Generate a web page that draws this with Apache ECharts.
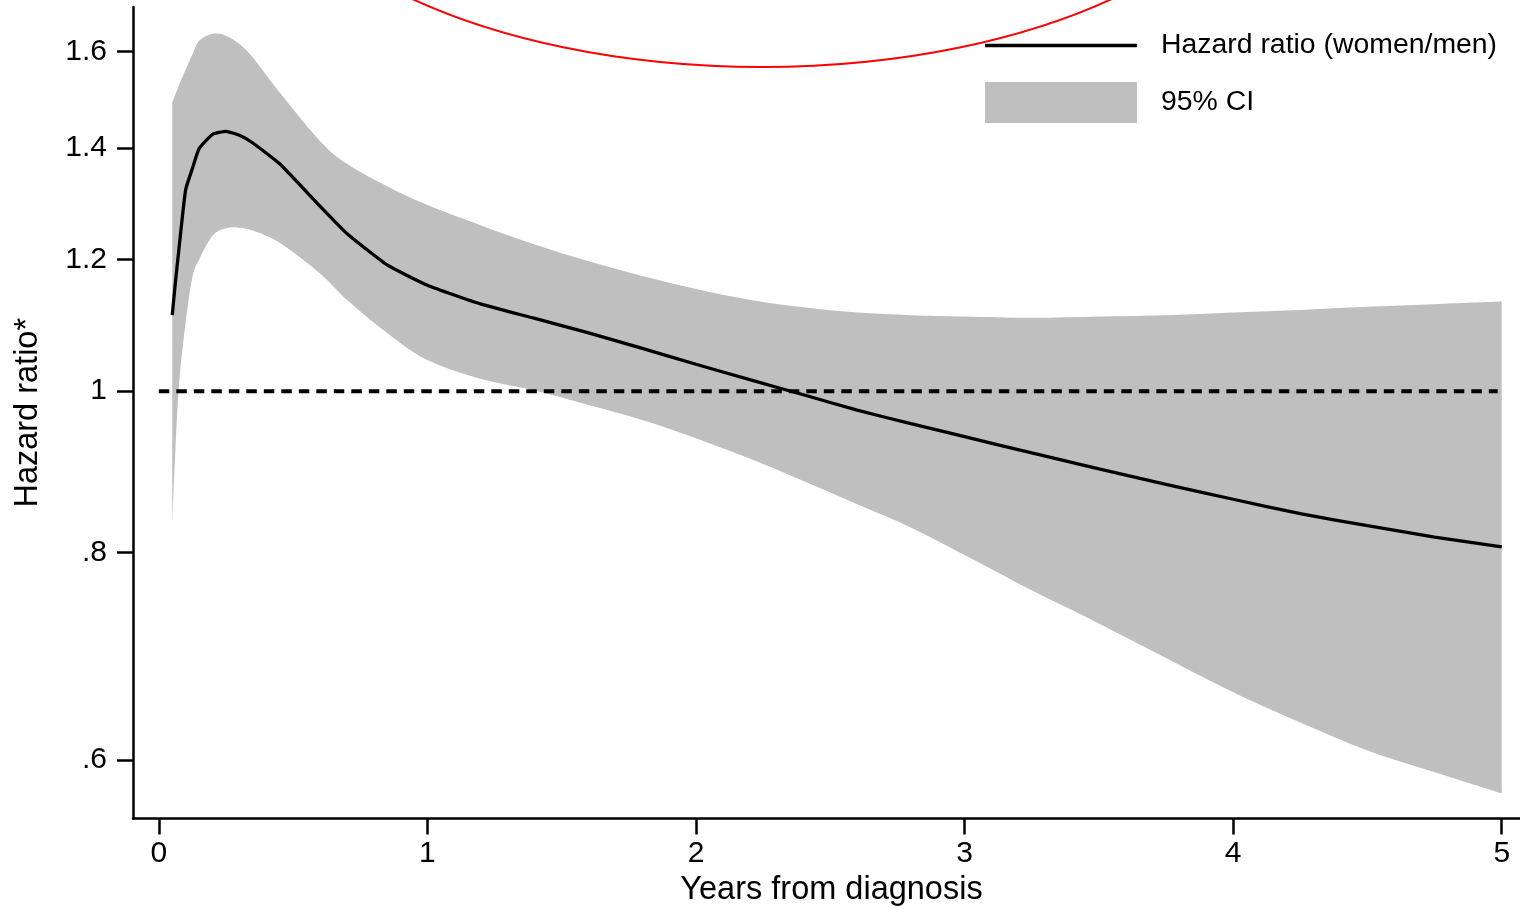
<!DOCTYPE html>
<html><head><meta charset="utf-8">
<script src="https://cdn.jsdelivr.net/npm/echarts@6/dist/echarts.min.js"></script>
<style>html,body{margin:0;padding:0;background:#fff}#c{width:1520px;height:909px}</style>
</head><body><div id="c"></div>
<script>
// ---- data ----
const years = [0.05, 0.06, 0.075, 0.1, 0.125, 0.15, 0.2, 0.25, 0.3, 0.35, 0.45, 0.6, 0.7, 0.85, 1.0, 1.2, 1.4, 1.6, 1.8, 2.0, 2.2, 2.4, 2.6, 2.8, 3.0, 3.25, 3.5, 3.75, 4.0, 4.25, 4.5, 4.75, 5.0];
const hazardRatio = [1.111, 1.155, 1.218, 1.322, 1.361, 1.399, 1.427, 1.433, 1.425, 1.410, 1.370, 1.292, 1.244, 1.191, 1.158, 1.128, 1.106, 1.084, 1.061, 1.038, 1.016, 0.995, 0.974, 0.956, 0.939, 0.918, 0.898, 0.879, 0.861, 0.844, 0.830, 0.817, 0.806];
const ciLower = [0.831, 0.909, 1.008, 1.100, 1.171, 1.200, 1.240, 1.253, 1.254, 1.249, 1.228, 1.177, 1.135, 1.084, 1.044, 1.017, 1.001, 0.981, 0.961, 0.937, 0.911, 0.883, 0.855, 0.828, 0.797, 0.759, 0.725, 0.691, 0.659, 0.632, 0.608, 0.590, 0.573];
const ciUpper = [1.491, 1.506, 1.527, 1.561, 1.594, 1.624, 1.640, 1.636, 1.617, 1.587, 1.512, 1.414, 1.370, 1.328, 1.294, 1.258, 1.225, 1.197, 1.173, 1.152, 1.135, 1.123, 1.115, 1.111, 1.109, 1.107, 1.109, 1.111, 1.115, 1.119, 1.124, 1.128, 1.132];
const referenceValue = 1;
const referenceYears = [0, 4.985];
const yTickValues = [0.6, 0.8, 1, 1.2, 1.4, 1.6];
const yTickLabels = ['.6', '.8', '1', '1.2', '1.4', '1.6'];
const xTickValues = [0, 1, 2, 3, 4, 5];
const xTickLabels = ['0', '1', '2', '3', '4', '5'];
const seriesNames = ['Hazard ratio (women/men)', '95% CI'];
const axisTitles = ['Years from diagnosis', 'Hazard ratio*'];

// ---- chart ----
const ln = Math.log;
const FONT = '"Liberation Sans", Arial, Helvetica, sans-serif';
const yTickLn = yTickValues.map(ln);
function yLabel(v) {
  for (let i = 0; i < yTickLn.length; i++) if (Math.abs(v - yTickLn[i]) < 1e-6) return yTickLabels[i];
  return '';
}
function xLabel(v) {
  for (let i = 0; i < xTickValues.length; i++) if (Math.abs(v - xTickValues[i]) < 1e-6) return xTickLabels[i];
  return '';
}
// smooth outline through projected points (Catmull-Rom -> cubic Bezier)
function smoothSegment(p, start) {
  let d = start ? 'M' + p[0][0] + ',' + p[0][1] : 'L' + p[0][0] + ',' + p[0][1];
  for (let i = 0; i < p.length - 1; i++) {
    const p0 = p[i - 1] || p[i], p1 = p[i], p2 = p[i + 1], p3 = p[i + 2] || p[i + 1];
    const c1x = p1[0] + (p2[0] - p0[0]) / 6, c1y = p1[1] + (p2[1] - p0[1]) / 6;
    const c2x = p2[0] - (p3[0] - p1[0]) / 6, c2y = p2[1] - (p3[1] - p1[1]) / 6;
    d += 'C' + c1x + ',' + c1y + ' ' + c2x + ',' + c2y + ' ' + p2[0] + ',' + p2[1];
  }
  return d;
}

const chart = echarts.init(document.getElementById('c'), null, { renderer: 'canvas' });
const axisCommon = {
  axisLine: { onZero: false, lineStyle: { color: '#000', width: 2.5 } },
  axisTick: { inside: false, length: 16, lineStyle: { color: '#000', width: 2.5 } },
  splitLine: { show: false }
};
const legendText = { fontSize: 28.4, color: '#000', fontFamily: FONT, padding: [0, 0, 0, 19] };
const option = {
  animation: false,
  backgroundColor: '#fff',
  textStyle: { fontFamily: FONT },
  grid: { left: 133, top: 7, right: 0, height: 811.5, outerBoundsMode: 'none', containLabel: false },
  xAxis: Object.assign({}, axisCommon, {
    type: 'value', min: -0.0961, max: 5.068,
    axisTick: Object.assign({}, axisCommon.axisTick, { customValues: xTickValues }),
    axisLabel: { customValues: xTickValues, formatter: xLabel, fontSize: 30, color: '#000', margin: 20, fontFamily: FONT },
    name: axisTitles[0], nameLocation: 'middle', nameGap: 54,
    nameTextStyle: { fontSize: 32.5, color: '#000', fontFamily: FONT, padding: [0, 0, 0, 10] }
  }),
  yAxis: Object.assign({}, axisCommon, {
    type: 'value', min: -0.5917, max: 0.5319,
    axisTick: Object.assign({}, axisCommon.axisTick, { customValues: yTickLn }),
    axisLabel: { customValues: yTickLn, formatter: yLabel, fontSize: 30, color: '#000', margin: 26, fontFamily: FONT },
    name: axisTitles[1], nameLocation: 'middle', nameGap: 88, nameRotate: 90,
    nameTextStyle: { fontSize: 32.5, color: '#000', fontFamily: FONT }
  }),
  legend: [
    {
      orient: 'vertical', left: 985, top: 31.5, padding: 0,
      itemWidth: 152, itemHeight: 3.3, selectedMode: false,
      data: [{ name: seriesNames[0], icon: 'rect' }],
      textStyle: legendText
    },
    {
      orient: 'vertical', left: 985, top: 82, padding: 0,
      itemWidth: 152, itemHeight: 41, selectedMode: false,
      data: [{ name: seriesNames[1], icon: 'rect' }],
      textStyle: legendText
    }
  ],
  series: [
    {
      name: seriesNames[1], type: 'custom',
      data: years.map((x, i) => [x, ln(ciLower[i]), ln(ciUpper[i])]),
      encode: { x: 0, y: [1, 2] },
      itemStyle: { color: '#bfbfbf' },
      renderItem: function (params, api) {
        if (params.dataIndex !== 0) return null;
        const up = [], lo = [];
        for (let i = 0; i < years.length; i++) up.push(api.coord([years[i], ln(ciUpper[i])]));
        for (let i = years.length - 1; i >= 0; i--) lo.push(api.coord([years[i], ln(ciLower[i])]));
        const d = smoothSegment(up, true) + smoothSegment(lo, false) + 'Z';
        return { type: 'path', shape: { pathData: d }, style: { fill: '#bfbfbf', stroke: null } };
      },
      silent: true, z: 1
    },
    {
      name: 'reference', type: 'line',
      data: referenceYears.map(x => [x, ln(referenceValue)]),
      symbol: 'none', lineStyle: { color: '#000', width: 4, type: [10.5, 7] }, silent: true, z: 2
    },
    {
      name: seriesNames[0], type: 'line',
      data: years.map((x, i) => [x, ln(hazardRatio[i])]),
      symbol: 'none', smooth: 0.15,
      lineStyle: { color: '#000', width: 3.3 }, itemStyle: { color: '#000' }, silent: true, z: 3
    }
  ],
  graphic: [{
    type: 'ellipse', silent: true, z: 100,
    shape: { cx: 762, cy: -184, rx: 511, ry: 251 },
    style: { fill: 'none', stroke: '#ff0000', lineWidth: 2 }
  }]
};
chart.setOption(option);
</script>
</body></html>
